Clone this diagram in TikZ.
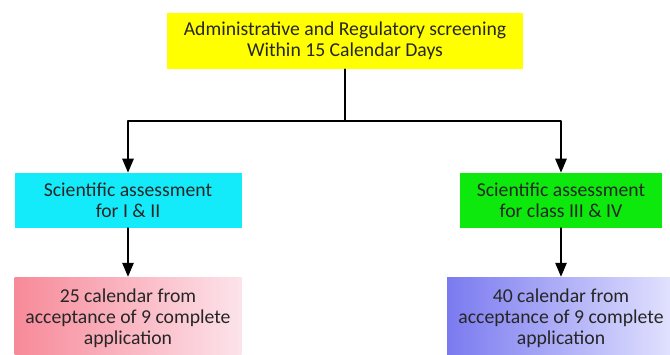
\documentclass[tikz,border=0pt]{standalone}
\usepackage{fontspec}
\setmainfont{Carlito}
\usepackage{tikz}
\usetikzlibrary{arrows}
\usetikzlibrary{positioning}
\definecolor{boxyellow}{rgb}{1,1,0}
\definecolor{boxcyan}{rgb}{0.08,0.92,0.98}
\definecolor{boxgreen}{rgb}{0.05,0.91,0.05}
\definecolor{pinkdark}{rgb}{0.97,0.54,0.60}
\definecolor{pinklight}{rgb}{0.99,0.89,0.92}
\definecolor{bluedark}{rgb}{0.48,0.48,0.94}
\definecolor{bluelight}{rgb}{0.89,0.89,1}
\tikzset{
  stagebox/.style={align=center,inner sep=0pt,font=\fontsize{14}{15}\selectfont,text=black!85},
  flow/.style={line width=1.3pt,black}
}
\begin{document}
\begin{tikzpicture}[line cap=round,line join=round,>=triangle 45,x=1.0cm,y=1.0cm]
\useasboundingbox (0,0) rectangle (16.75,8.85);
\clip (0,0) rectangle (16.75,8.85);
% screening stage
\node[stagebox,fill=boxyellow,minimum width=8.9cm,minimum height=1.4cm] (screening) at (8.625,7.825)
  {Administrative and Regulatory screening\\Within 15 Calendar Days};
% assessment stages
\node[stagebox,fill=boxcyan,minimum width=5.675cm,minimum height=1.375cm] (sciA) at (3.2,3.84)
  {Scientific assessment\\for I \& II};
\node[stagebox,fill=boxgreen,minimum width=5.05cm,minimum height=1.375cm] (sciB) at (14.025,3.84)
  {Scientific assessment\\for class III \& IV};
% time limits
\node[stagebox,left color=pinkdark,right color=pinklight,minimum width=5.675cm,minimum height=2.05cm] (daysA) at (3.2,0.9)
  {25 calendar from\\acceptance of 9 complete\\application};
\node[stagebox,left color=bluedark,right color=bluelight,minimum width=5.7cm,minimum height=2.05cm] (daysB) at (14.025,0.9)
  {40 calendar from\\acceptance of 9 complete\\application};
\coordinate (split) at (8.625,5.825);
\draw[flow] (screening) -- (split);
\draw[flow,->] (split) -| (sciA);
\draw[flow,->] (split) -| (sciB);
\draw[flow,->] (sciA) -- (daysA);
\draw[flow,->] (sciB) -- (daysB);
\end{tikzpicture}
\end{document}
